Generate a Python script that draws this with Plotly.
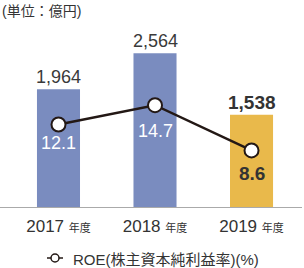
import plotly.graph_objects as go

years = ["2017", "2018", "2019"]
sales = [1964, 2564, 1538]
sales_labels = ["1,964", "2,564", "1,538"]
roe = [12.1, 14.7, 8.6]
roe_labels = ["12.1", "14.7", "8.6"]
bar_colors = ["#7a8cbf", "#7a8cbf", "#e9b94b"]

FONT = "Liberation Sans, Arial, Noto Sans CJK JP"
xs = list(range(len(years)))

fig = go.Figure()
fig.add_trace(go.Bar(x=xs, y=sales, width=0.446, marker=dict(color=bar_colors, line=dict(width=0)),
                     hoverinfo="skip", showlegend=False))
fig.add_trace(go.Scatter(x=xs, y=roe, yaxis="y2", mode="lines+markers",
                         line=dict(color="#231815", width=2.5),
                         marker=dict(size=14, color="white", line=dict(color="#231815", width=2)),
                         showlegend=False, cliponaxis=False))

# bar value labels
for i, (v, t) in enumerate(zip(sales, sales_labels)):
    bold = i == 2
    fig.add_annotation(x=i, y=v, xref="x", yref="y", text=f"<b>{t}</b>" if bold else t,
                       showarrow=False, yanchor="bottom", yshift=0,
                       font=dict(family=FONT, size=19 if bold else 18, color="#333333" if bold else "#3a3a3a"))

# ROE labels
roe_shift = [-19, -26, -23]
for i, (v, t) in enumerate(zip(roe, roe_labels)):
    bold = i == 2
    fig.add_annotation(x=i, y=v, xref="x", yref="y2", text=f"<b>{t}</b>" if bold else t,
                       showarrow=False, yanchor="middle", yshift=roe_shift[i],
                       font=dict(family=FONT, size=19 if bold else 18, color="#333333" if bold else "white"))

# unit title
fig.add_annotation(x=0, y=1, xref="paper", yref="paper", xanchor="left", yanchor="top",
                   text="(単位：億円)", showarrow=False, yshift=19,
                   font=dict(family=FONT, size=14, color="#333333"))

# manual legend
W, H = 302.0, 187.0
def px(x):
    return x / W
def py(y):
    return (207 - y) / H
fig.add_shape(type="line", xref="paper", yref="paper", x0=px(47), x1=px(63), y0=py(258), y1=py(258),
              line=dict(color="#231815", width=1.5))
fig.add_shape(type="circle", xref="paper", yref="paper", x0=px(51), x1=px(59), y0=py(254), y1=py(262),
              line=dict(color="#231815", width=1.5), fillcolor="white")
fig.add_annotation(x=px(71), y=py(259), xref="paper", yref="paper", xanchor="left", yanchor="middle",
                   text="ROE(株主資本純利益率)(%)", showarrow=False,
                   font=dict(family=FONT, size=15, color="#333333"))

ticktext = [f"{y} <span style='font-size:11px'>年度</span>" for y in years]

fig.update_layout(
    width=304, height=268,
    margin=dict(l=0, r=2, t=20, b=61),
    paper_bgcolor="white", plot_bgcolor="white",
    font=dict(family=FONT, color="#333333"),
    xaxis=dict(range=[-0.606, 2.523], tickvals=xs, ticktext=ticktext, showgrid=False, zeroline=False,
               showline=True, linecolor="#aaaaaa", linewidth=1, ticks="", ticklabelstandoff=4,
               tickfont=dict(family=FONT, size=17, color="#333333")),
    yaxis=dict(range=[0, 3117], visible=False, showgrid=False),
    yaxis2=dict(range=[0.96, 26.2], overlaying="y", visible=False, showgrid=False),
)

fig.write_html("out.html")
